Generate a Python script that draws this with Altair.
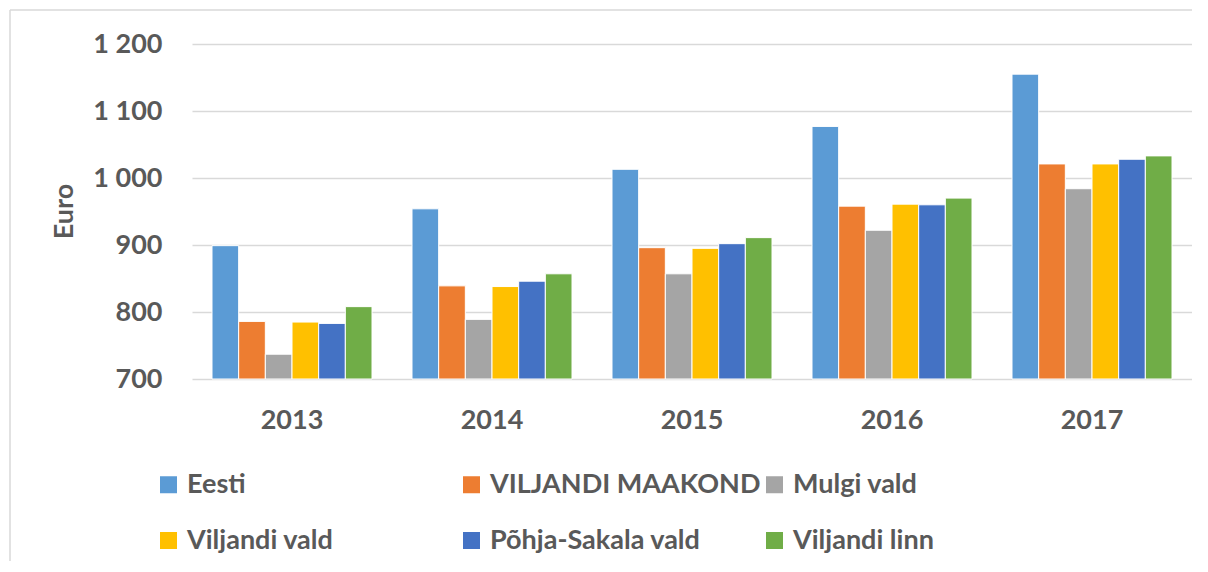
import altair as alt
import pandas as pd

years = ["2013", "2014", "2015", "2016", "2017"]
series = ["Eesti", "VILJANDI MAAKOND", "Mulgi vald", "Viljandi vald", "Põhja-Sakala vald", "Viljandi linn"]
colors = ["#5B9BD5", "#ED7D31", "#A5A5A5", "#FFC000", "#4472C4", "#70AD47"]

eesti = [899, 954, 1013, 1077, 1155]
viljandi_maakond = [786, 839, 896, 958, 1021]
mulgi_vald = [737, 789, 857, 922, 984]
viljandi_vald = [785, 838, 895, 961, 1021]
pohja_sakala_vald = [783, 846, 902, 960, 1028]
viljandi_linn = [808, 857, 911, 970, 1033]

y_ticks = [700, 800, 900, 1000, 1100, 1200]

values_by_series = [eesti, viljandi_maakond, mulgi_vald, viljandi_vald, pohja_sakala_vald, viljandi_linn]
rows = []
for s, vals in zip(series, values_by_series):
    for yr, v in zip(years, vals):
        rows.append({"year": yr, "series": s, "value": v})
df = pd.DataFrame(rows)

FONT = "Lato"
TXT = "#595959"
GRID = "#D9D9D9"

bars = alt.Chart(df).mark_bar(stroke="white", strokeWidth=1).encode(
    x=alt.X("year:N", sort=years,
            scale=alt.Scale(paddingInner=0.2, paddingOuter=0.1),
            axis=alt.Axis(title=None, labelAngle=0, ticks=False, domain=False, grid=False,
                          labelPadding=28, labelFont=FONT, labelFontSize=27,
                          labelFontWeight="bold", labelColor=TXT)),
    xOffset=alt.XOffset("series:N", sort=series,
                        scale=alt.Scale(paddingInner=0, paddingOuter=0)),
    y=alt.Y("value:Q",
            scale=alt.Scale(domain=[700, 1200], zero=False, nice=False),
            axis=alt.Axis(values=y_ticks, title="Euro", ticks=False, domain=False,
                          grid=True, gridColor=GRID, gridWidth=1.5,
                          labelPadding=30, labelFont=FONT, labelFontSize=27,
                          labelFontWeight="bold", labelColor=TXT,
                          labelExpr="replace(format(datum.value, ','), ',', ' ')",
                          titleFont=FONT, titleFontSize=27, titleFontWeight="bold",
                          titleColor=TXT, titleAngle=270, titleX=-128, titleY=167,
                          titleAlign="center", titleBaseline="middle")),
    y2=alt.datum(700),
    color=alt.Color("series:N", sort=series,
                    scale=alt.Scale(domain=series, range=colors),
                    legend=alt.Legend(title=None, orient="none", legendX=-37, legendY=427,
                                      direction="horizontal", columns=3, gridAlign="all",
                                      columnPadding=-2, rowPadding=28, padding=0,
                                      symbolType="square", symbolSize=289,
                                      symbolStrokeWidth=0, labelOffset=5,
                                      labelFont=FONT, labelFontSize=27,
                                      labelFontWeight="bold", labelColor=TXT,
                                      labelLimit=400)),
)

one = pd.DataFrame({"a": [0]})
frame_top = alt.Chart(one).mark_rule(stroke=GRID, strokeWidth=1.5).encode(
    x=alt.value(-182), x2=alt.value(1016), y=alt.value(-34)
)
frame_left = alt.Chart(one).mark_rule(stroke=GRID, strokeWidth=1.5).encode(
    x=alt.value(-182), y=alt.value(-34), y2=alt.value(530)
)

chart = alt.layer(frame_top, frame_left, bars).properties(
    width=1000, height=335,
    padding={"left": 184, "top": 36, "right": 0, "bottom": 182},
    autosize="none",
).configure_view(stroke=None)

chart.save("out.html", embed_options={"renderer": "svg", "actions": False})
